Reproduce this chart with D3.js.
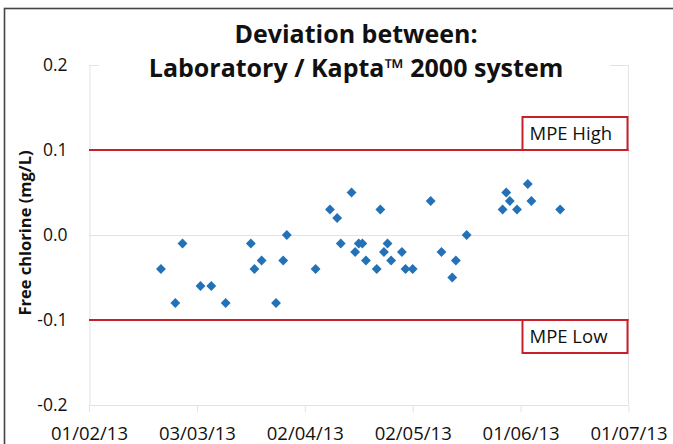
<!DOCTYPE html>
<html>
<head>
<meta charset="utf-8">
<script src="https://cdn.jsdelivr.net/npm/d3@7"></script>
<style>
  html, body { margin: 0; padding: 0; background: #fff; }
  svg { display: block; }
</style>
</head>
<body>
<svg id="chart" width="673" height="444"></svg>
<script>
// ---- Data ----
const titleLines = ["Deviation between:", "Laboratory / Kapta\u2122 2000 system"];
const yLabel = "Free chlorine (mg/L)";
const dates = [
  "2013-02-21","2013-02-25","2013-02-27","2013-03-04","2013-03-07","2013-03-11",
  "2013-03-18","2013-03-19","2013-03-21","2013-03-25","2013-03-27","2013-03-28",
  "2013-04-05","2013-04-09","2013-04-11","2013-04-12","2013-04-15","2013-04-16",
  "2013-04-17","2013-04-18","2013-04-19","2013-04-22","2013-04-23","2013-04-24",
  "2013-04-25","2013-04-26","2013-04-29","2013-04-30","2013-05-02","2013-05-07",
  "2013-05-10","2013-05-13","2013-05-14","2013-05-17","2013-05-27","2013-05-28",
  "2013-05-29","2013-05-31","2013-06-03","2013-06-04","2013-06-12"
];
const deviations = [
  -0.04,-0.08,-0.01,-0.06,-0.06,-0.08,
  -0.01,-0.04,-0.03,-0.08,-0.03,0.00,
  -0.04,0.03,0.02,-0.01,0.05,-0.02,
  -0.01,-0.01,-0.03,-0.04,0.03,-0.02,
  -0.01,-0.03,-0.02,-0.04,-0.04,0.04,
  -0.02,-0.05,-0.03,0.00,0.03,0.05,
  0.04,0.03,0.06,0.04,0.03
];
const xTicks = ["2013-02-01","2013-03-03","2013-04-02","2013-05-02","2013-06-01","2013-07-01"];
const yTicks = [0.2, 0.1, 0.0, -0.1, -0.2];
const limitValues = [0.1, -0.1];
const limitLabels = ["MPE High", "MPE Low"];

// ---- Chart ----
(function () {
const svg = d3.select("#chart");
const font = "'Open Sans', 'Noto Sans', sans-serif";
const pLeft = 89, pRight = 628.5, pTop = 65, pBottom = 405;
const parse = d3.utcParse("%Y-%m-%d");
const fmt = d3.utcFormat("%d/%m/%y");

const x = d3.scaleUtc().domain([parse(xTicks[0]), parse(xTicks[xTicks.length - 1])]).range([pLeft, pRight]);
const y = d3.scaleLinear().domain([-0.2, 0.2]).range([pBottom, pTop]);

// outer chart border (only top/left visible)
svg.append("rect").attr("x", 4.5).attr("y", 8.5).attr("width", 700).attr("height", 500)
  .attr("fill", "none").attr("stroke", "#444").attr("stroke-width", 1.6);

// gridlines
svg.append("g").selectAll("line").data(yTicks).join("line")
  .attr("x1", pLeft).attr("x2", pRight)
  .attr("y1", d => Math.round(y(d)) + 0.5).attr("y2", d => Math.round(y(d)) + 0.5)
  .attr("stroke", "#e3e3e3").attr("stroke-width", 1);
// right border of plot area
svg.append("line").attr("x1", pRight).attr("x2", pRight).attr("y1", pTop).attr("y2", pBottom)
  .attr("stroke", "#e3e3e3");

// x axis ticks
const xAxis = d3.axisBottom(x).tickValues(xTicks.map(parse)).tickFormat(fmt).tickSize(7).tickPadding(14);
const gx = svg.append("g").attr("transform", `translate(0,${pBottom + 0.5})`).call(xAxis);
gx.select(".domain").remove();
gx.selectAll(".tick line").attr("stroke", "#e3e3e3");
gx.selectAll(".tick text").attr("font-family", font).attr("font-size", 18.5).attr("fill", "#111");

// y axis
const yAxis = d3.axisLeft(y).tickValues(yTicks).tickFormat(d => d.toFixed(1)).tickSize(0).tickPadding(22);
const gy = svg.append("g").attr("transform", `translate(${pLeft + 0.5},0)`).call(yAxis);
gy.select(".domain").attr("stroke", "#e3e3e3");
gy.selectAll(".tick text").attr("font-family", font).attr("font-size", 17.5).attr("fill", "#111");

// limit lines
svg.append("g").selectAll("line").data(limitValues).join("line")
  .attr("x1", pLeft).attr("x2", pRight)
  .attr("y1", d => y(d)).attr("y2", d => y(d))
  .attr("stroke", "#c8202a").attr("stroke-width", 2);

// limit labels boxes
const boxW = 106, boxH = 33;
const lg = svg.append("g").selectAll("g").data(limitValues).join("g");
lg.append("rect")
  .attr("x", pRight - boxW).attr("width", boxW - 1).attr("height", boxH)
  .attr("y", (d, i) => i === 0 ? y(d) - boxH : y(d))
  .attr("fill", "#fff").attr("stroke", "#c8202a").attr("stroke-width", 2);
lg.append("text")
  .attr("x", pRight - boxW + 7)
  .attr("y", (d, i) => (i === 0 ? y(d) - boxH : y(d)) + 23)
  .attr("font-family", font).attr("font-size", 18.5).attr("fill", "#111")
  .text((d, i) => limitLabels[i]);

// points
const diamond = d3.symbol().type(d3.symbolDiamond2).size(62);
svg.append("g").selectAll("path").data(dates.map((d, i) => ({ d: parse(d), v: deviations[i] }))).join("path")
  .attr("transform", p => `translate(${x(p.d)},${y(p.v)})`)
  .attr("d", diamond)
  .attr("fill", "#2372b8");

// title (with white background)
const tg = svg.append("g");
tg.append("rect").attr("x", 99).attr("y", 14).attr("width", 511).attr("height", 72).attr("fill", "#fff");
tg.selectAll("text").data(titleLines).join("text")
  .attr("x", 356).attr("y", (d, i) => 43 + i * 34)
  .attr("text-anchor", "middle")
  .attr("font-family", font).attr("font-weight", "bold").attr("font-size", 25).attr("fill", "#111")
  .text(d => d);

// y label
svg.append("text")
  .attr("transform", `translate(31,233) rotate(-90)`)
  .attr("text-anchor", "middle")
  .attr("font-family", font).attr("font-weight", "bold").attr("font-size", 16.5).attr("fill", "#111")
  .text(yLabel);
})();
</script>
</body>
</html>
